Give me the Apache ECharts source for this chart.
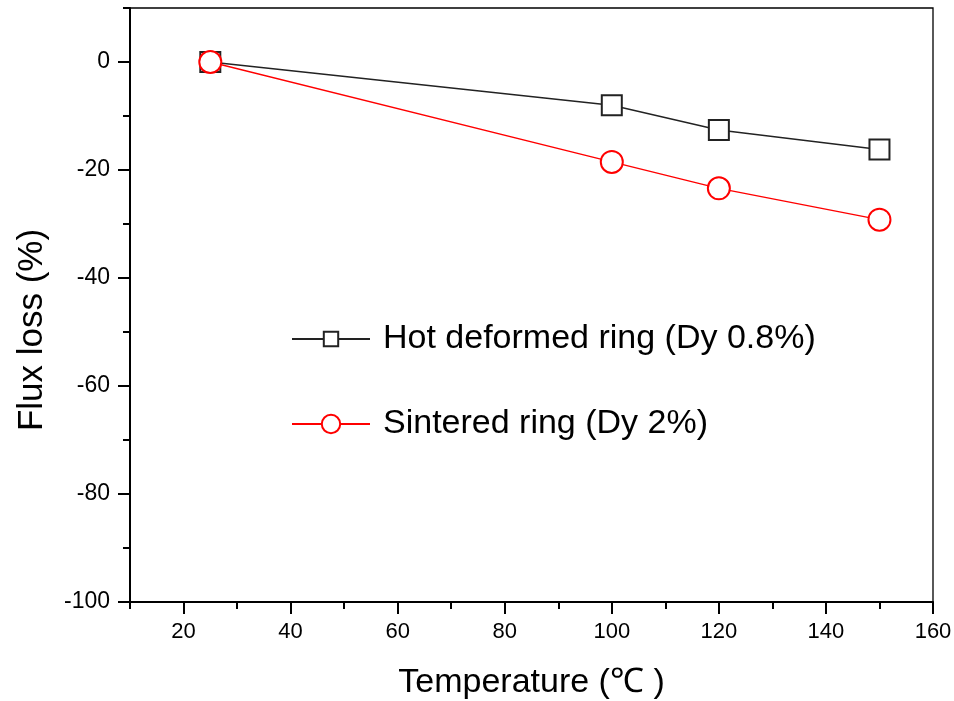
<!DOCTYPE html>
<html>
<head>
<meta charset="utf-8">
<script src="https://cdn.jsdelivr.net/npm/echarts@6/dist/echarts.min.js"></script>
<style>
html,body{margin:0;padding:0;background:#fff;}
#chart{width:954px;height:701px;}
</style>
</head>
<body>
<div id="chart"></div>
<script>
const temperatures = [25, 100, 120, 150];
const hotDeformed = [0, -8.0, -12.6, -16.2];
const sintered = [0, -18.5, -23.4, -29.2];
const xTickValues = [20, 40, 60, 80, 100, 120, 140, 160];
const yTickValues = [-100, -80, -60, -40, -20, 0];
const seriesNames = ['Hot deformed ring (Dy 0.8%)', 'Sintered ring (Dy 2%)'];
const xTitle = 'Temperature (\u2103 )';
const yTitle = 'Flux loss (%)';

const font = '"Liberation Sans", Arial, sans-serif';
const chart = echarts.init(document.getElementById('chart'), null, {renderer: 'canvas'});

const hotData = temperatures.map((t, i) => [t, hotDeformed[i]]);
const sinData = temperatures.map((t, i) => [t, sintered[i]]);

chart.setOption({
  animation: false,
  backgroundColor: '#fff',
  grid: {left: 130, right: 21, top: 8, bottom: 99, show: true, borderColor: '#000', borderWidth: 1.3,
         backgroundColor: 'transparent', containLabel: false, outerBoundsMode: 'none'},
  legend: [
    {
      data: [seriesNames[0]], left: 286, top: 317, orient: 'vertical',
      itemWidth: 78, itemHeight: 18,
      textStyle: {fontFamily: font, fontSize: 34, color: '#000', lineHeight: 34, padding: [0, 0, 0, 8]}
    },
    {
      data: [seriesNames[1]], left: 286, top: 402, orient: 'vertical',
      itemWidth: 78, itemHeight: 23,
      textStyle: {fontFamily: font, fontSize: 34, color: '#000', lineHeight: 34, padding: [0, 0, 0, 8]}
    }
  ],
  xAxis: [
    {
      type: 'value', min: 10, max: 160, position: 'bottom',
      name: xTitle, nameLocation: 'middle', nameGap: 64,
      nameTextStyle: {fontFamily: font, fontSize: 34, color: '#000'},
      axisLine: {show: true, onZero: false, lineStyle: {color: '#000', width: 2}},
      axisTick: {show: true, inside: false, length: 12, customValues: xTickValues, lineStyle: {color: '#000', width: 2}},
      axisLabel: {show: true, customValues: xTickValues, margin: 19, fontFamily: font, fontSize: 22, color: '#000'},
      splitLine: {show: false}
    },
    {
      type: 'value', min: 10, max: 160, interval: 10, position: 'bottom', offset: 0,
      axisLine: {show: false, onZero: false},
      axisTick: {show: true, inside: false, length: 7, lineStyle: {color: '#000', width: 2}},
      axisLabel: {show: false},
      splitLine: {show: false}
    }
  ],
  yAxis: [
    {
      type: 'value', min: -100, max: 10, position: 'left',
      name: yTitle, nameLocation: 'middle', nameGap: 80, nameRotate: 90,
      nameTextStyle: {fontFamily: font, fontSize: 35, color: '#000', padding: [0, 50, 0, 0]},
      axisLine: {show: true, onZero: false, lineStyle: {color: '#000', width: 2}},
      axisTick: {show: true, inside: false, length: 12, customValues: yTickValues, lineStyle: {color: '#000', width: 2}},
      axisLabel: {show: true, customValues: yTickValues, margin: 20, fontFamily: font, fontSize: 23, color: '#000'},
      splitLine: {show: false}
    },
    {
      type: 'value', min: -100, max: 10, interval: 10, position: 'left', offset: 0,
      axisLine: {show: false, onZero: false},
      axisTick: {show: true, inside: false, length: 7, lineStyle: {color: '#000', width: 2}},
      axisLabel: {show: false},
      splitLine: {show: false}
    }
  ],
  series: [
    {
      name: seriesNames[0], type: 'line', data: hotData, xAxisIndex: 0, yAxisIndex: 0,
      symbol: 'rect', symbolSize: 20,
      lineStyle: {color: '#222', width: 1.4},
      itemStyle: {color: '#fff', borderColor: '#222', borderWidth: 2},
      z: 3
    },
    {
      name: seriesNames[1], type: 'line', data: sinData, xAxisIndex: 0, yAxisIndex: 0,
      symbol: 'circle', symbolSize: 22,
      lineStyle: {color: '#ff0000', width: 1.4},
      itemStyle: {color: '#fff', borderColor: '#ff0000', borderWidth: 2},
      z: 4
    }
  ]
});
</script>
</body>
</html>
